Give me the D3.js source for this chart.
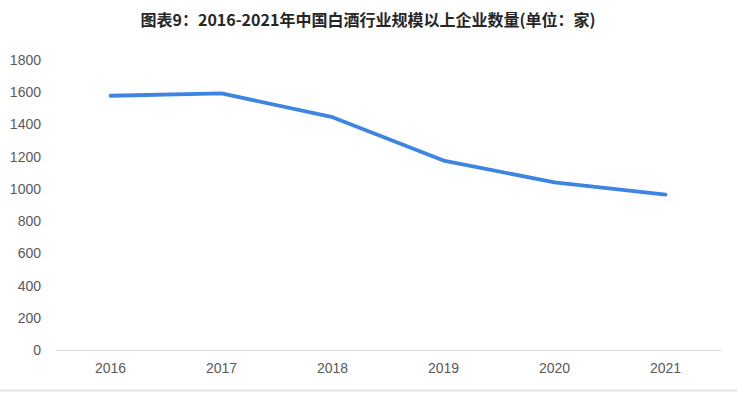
<!DOCTYPE html>
<html lang="zh">
<head>
<meta charset="UTF-8">
<title>白酒行业规模以上企业数量</title>
<script src="https://d3js.org/d3.v7.min.js"></script>
<style>
    body { margin: 0; background: #fff; }
    text { font-family: "Liberation Sans", Arial, sans-serif; }
</style>
</head>
<body>
<svg id="chart" width="737" height="393"></svg>
<script>
    var years = ["2016", "2017", "2018", "2019", "2020", "2021"];
    var counts = [1578, 1593, 1445, 1176, 1040, 965];
    var yTicks = [0, 200, 400, 600, 800, 1000, 1200, 1400, 1600, 1800];

    var svg = d3.select('#chart');
    var plotLeft = 55, plotRight = 721, plotTop = 60, plotBottom = 350;

    var x = d3.scaleBand().domain(years).range([plotLeft, plotRight]);
    var y = d3.scaleLinear().domain([0, 1800]).range([plotBottom, plotTop]);

    // 标题
    svg.append('text')
        .attr('x', 368).attr('y', 26)
        .attr('text-anchor', 'middle')
        .style('font-family', '"Noto Sans CJK SC", sans-serif')
        .style('font-weight', 'bold')
        .style('font-size', '16px')
        .attr('fill', '#262626')
        .text('图表9：2016-2021年中国白酒行业规模以上企业数量(单位：家)');

    // y轴
    var yAxis = svg.append('g')
        .attr('transform', 'translate(' + plotLeft + ',0)')
        .call(d3.axisLeft(y).tickValues(yTicks).tickFormat(d3.format('d')).tickSize(0).tickPadding(14));
    yAxis.select('.domain').remove();
    yAxis.selectAll('text').style('font-size', '14px').attr('fill', '#595959');

    // x轴
    var xAxis = svg.append('g')
        .attr('transform', 'translate(0,' + plotBottom + ')')
        .call(d3.axisBottom(x).tickSize(0).tickPadding(13));
    xAxis.select('.domain').attr('stroke', '#d9d9d9');
    xAxis.selectAll('text').style('font-size', '14px').attr('fill', '#595959');

    // 底部分隔线
    svg.append('line')
        .attr('x1', 0).attr('x2', 737)
        .attr('y1', 390.5).attr('y2', 390.5)
        .attr('stroke', '#e6e6e6').attr('stroke-width', 2);

    var line = d3.line()
        .x(function (d, i) { return x(years[i]) + x.bandwidth() / 2; })
        .y(function (d) { return y(d); });

    svg.append('path')
        .datum(counts)
        .attr('d', line)
        .attr('fill', 'none')
        .attr('stroke', '#3d85e0')
        .attr('stroke-width', 3.8)
        .attr('stroke-linecap', 'round')
        .attr('stroke-linejoin', 'round');
</script>
</body>
</html>
